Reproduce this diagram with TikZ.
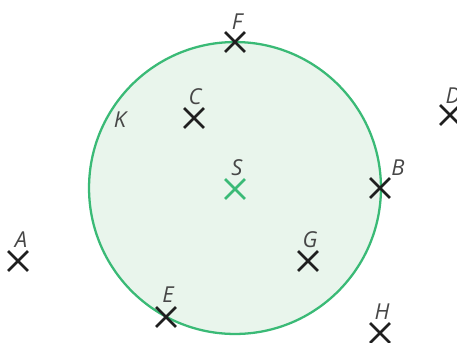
\documentclass[tikz,border=0pt]{standalone}
\usepackage{fontspec}
\setmainfont{Open Sans}
\usepackage{tikz}
\usetikzlibrary{shapes.misc}
\definecolor{kgreen}{RGB}{58,186,118}
\definecolor{kfill}{RGB}{233,245,236}

\begin{document}
\begin{tikzpicture}[x=0.02cm,y=-0.02cm,
                    pt/.style={
                        cross out,
                        draw=black!88,
                        line width=1.6pt,
                        minimum size=0.34cm,
                        inner sep=0pt
                    },
                    lbl/.style={
                        font=\fontsize{12.5}{15}\selectfont\itshape,
                        text=black!72,
                        anchor=base,
                        inner sep=0pt
                    },
                    circ/.style={
                        draw=kgreen,
                        fill=kfill,
                        line width=1.3pt
                    }
                ]

                \clip (0,0) rectangle (457,342);

                % Kreis K um S
                \node[circle, circ, minimum size=5.84cm, inner sep=0pt] (circK) at (235,188) {};
                \node[lbl] (lK) at (120,127) {K};

                % Punkte
                \node[pt] (F) at (235,42) {};
                \node[pt] (C) at (194,118) {};
                \node[pt] (D) at (450,115) {};
                \node[pt, draw=kgreen] (S) at (235,189) {};
                \node[pt] (B) at (380,188) {};
                \node[pt] (A) at (18,261) {};
                \node[pt] (G) at (308,261) {};
                \node[pt] (E) at (166,317) {};
                \node[pt] (H) at (380,333) {};

                % Beschriftungen
                \node[lbl] (lF) at (237,29) {F};
                \node[lbl] (lC) at (195,104) {C};
                \node[lbl] (lD) at (453,103) {D};
                \node[lbl] (lS) at (237,175) {S};
                \node[lbl] (lB) at (398,175) {B};
                \node[lbl] (lA) at (21,247) {A};
                \node[lbl] (lG) at (310,247) {G};
                \node[lbl] (lE) at (168,302) {E};
                \node[lbl] (lH) at (382,319) {H};

            \end{tikzpicture}
\end{document}
